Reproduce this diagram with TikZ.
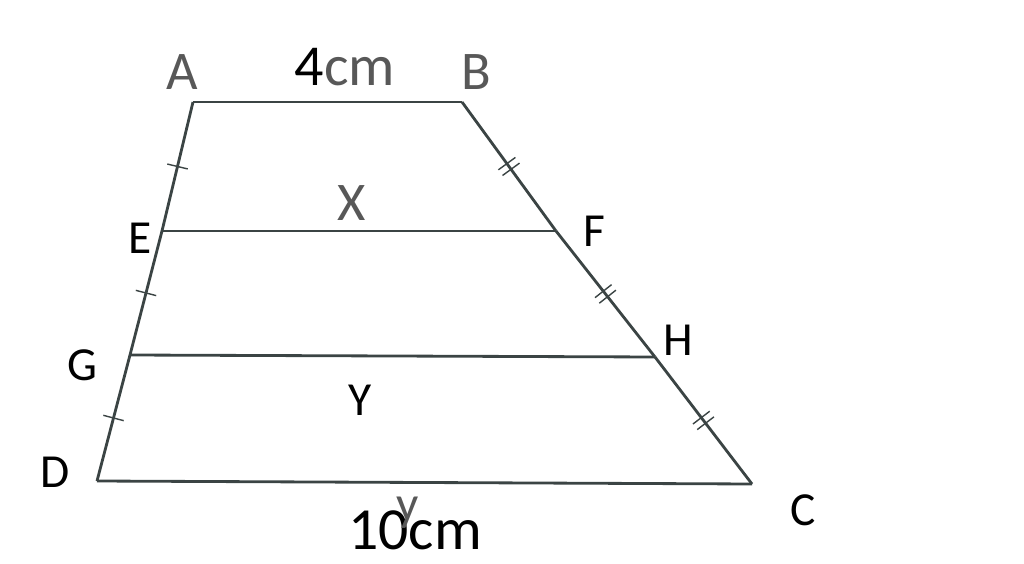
\documentclass[tikz,border=0pt]{standalone}
\usepackage{fontspec}
\setmainfont{Carlito}
\usetikzlibrary{decorations.markings}

\definecolor{edgegray}{HTML}{3B4444}
\definecolor{softgray}{HTML}{585858}

\tikzset{
  side/.style={draw=edgegray, line width=1.6pt},
  onetick/.style={decoration={markings, mark=at position 0.5 with {\draw[edgegray, line width=0.8pt] (0,-6pt) -- (0,6pt);}}, postaction=decorate},
  twotick/.style={decoration={markings, mark=at position 0.5 with {\draw[edgegray, line width=0.8pt] (-2pt,-6pt) -- (-2pt,6pt) (2pt,-6pt) -- (2pt,6pt);}}, postaction=decorate},
  lbl/.style={font=\fontsize{27}{30}\selectfont},
  glbl/.style={font=\fontsize{31}{34}\selectfont, text=softgray},
}

\begin{document}
\begin{tikzpicture}[x=0.02cm, y=-0.02cm]% trapezoid with midlines

\useasboundingbox (0,0) rectangle (1024,564);

\coordinate (A) at (193,102);
\coordinate (B) at (462,102);
\coordinate (C) at (752,484);
\coordinate (D) at (97,481);
\coordinate (E) at (162,231);
\coordinate (F) at (556,231);
\coordinate (G) at (130,355);
\coordinate (H) at (655,357);

% outline and cross lines
\draw[side] (A) -- (B);
\draw[side] (D) -- (C);
\draw[side] (E) -- (F);
\draw[side] (G) -- (H);
\draw[side, onetick] (A) -- (E);
\draw[side, onetick] (E) -- (G);
\draw[side, onetick] (G) -- (D);
\draw[side, twotick] (B) -- (F);
\draw[side, twotick] (F) -- (H);
\draw[side, twotick] (H) -- (C);

% vertex labels
\node[glbl] (lA) at (182,72) {A};
\node[glbl] (lB) at (476,72) {B};
\node[lbl] (lC) at (803,510) {C};
\node[lbl] (lD) at (55,472) {D};
\node[lbl] (lE) at (140,238) {E};
\node[lbl] (lF) at (594,231) {F};
\node[lbl] (lG) at (82,365) {G};
\node[lbl] (lH) at (678,340) {H};

% lengths
\node[glbl, font=\fontsize{33}{36}\selectfont] (top) at (345,67) {\textcolor{black}{4}cm};
\node[glbl] (lX) at (352,203) {X};
\node[lbl] (lY) at (360,400) {Y};
\node[lbl, inner sep=0pt, font=\fontsize{34}{36}\selectfont] (bottom) at (415,530) {10cm};
\node[glbl, font=\fontsize{28}{30}\selectfont] (ly) at (408,513) {y};

\end{tikzpicture}
\end{document}
